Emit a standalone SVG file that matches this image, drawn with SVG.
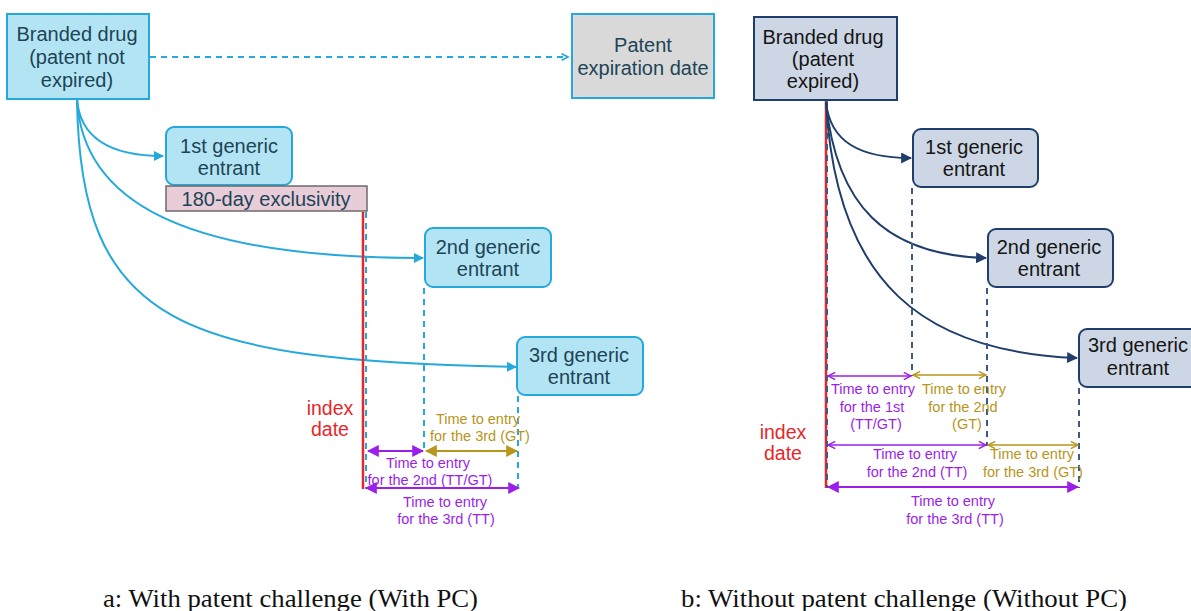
<svg xmlns="http://www.w3.org/2000/svg" width="1191" height="611" viewBox="0 0 1191 611">
  <style>
    .sans { font-family: "Liberation Sans", Arial, sans-serif; }
    .node-a { fill: #b3e4f4; stroke: #25a9dc; stroke-width: 2; }
    .node-b { fill: #cdd6e4; stroke: #203e6b; stroke-width: 2; }
    .lbl-a { font-size: 20px; fill: #1d4456; text-anchor: middle; }
    .lbl-b { font-size: 20px; fill: #151515; text-anchor: middle; }
    .idx { font-size: 19.5px; fill: #e8262a; text-anchor: middle; }
    .tp { font-size: 14.5px; fill: #9b1fe8; text-anchor: middle; }
    .tg { font-size: 14.5px; fill: #b8951c; text-anchor: middle; }
    .cap { font-family: "Liberation Serif", "Times New Roman", serif; font-size: 26px; fill: #111; }
    .curve-a { fill: none; stroke: #25a9dc; stroke-width: 2; }
    .curve-b { fill: none; stroke: #203e6b; stroke-width: 2; }
    .dash-a { fill: none; stroke: #25a9dc; stroke-width: 2; stroke-dasharray: 6 5; }
    .dash-b { fill: none; stroke: #3c5a85; stroke-width: 2; stroke-dasharray: 6 5; }
    .red { stroke: #e8262a; stroke-width: 2.5; }
    .ap { stroke: #9b1fe8; stroke-width: 2; fill: none; }
    .ag { stroke: #b8951c; stroke-width: 2; fill: none; }
    .thin-p { stroke: #9b1fe8; stroke-width: 1.5; fill: none; }
    .thin-g { stroke: #b8951c; stroke-width: 1.5; fill: none; }
  </style>
  <defs>
    <marker id="hCyan" viewBox="0 0 10 10" refX="9" refY="5" markerWidth="10" markerHeight="10" markerUnits="userSpaceOnUse" orient="auto">
      <path d="M0,0 L10,5 L0,10 Z" fill="#25a9dc"/>
    </marker>
    <marker id="hCyanOpen" viewBox="0 0 10 10" refX="9" refY="5" markerWidth="8" markerHeight="8" markerUnits="userSpaceOnUse" orient="auto">
      <path d="M1,1 L9,5 L1,9" fill="none" stroke="#25a9dc" stroke-width="2"/>
    </marker>
    <marker id="hNavy" viewBox="0 0 10 10" refX="9" refY="5" markerWidth="11" markerHeight="11" markerUnits="userSpaceOnUse" orient="auto">
      <path d="M0,0 L10,5 L0,10 Z" fill="#203e6b"/>
    </marker>
    <marker id="hPurple" viewBox="0 0 10 10" refX="9" refY="5" markerWidth="12" markerHeight="12" markerUnits="userSpaceOnUse" orient="auto-start-reverse">
      <path d="M0,0 L10,5 L0,10 Z" fill="#9b1fe8"/>
    </marker>
    <marker id="hGold" viewBox="0 0 10 10" refX="9" refY="5" markerWidth="12" markerHeight="12" markerUnits="userSpaceOnUse" orient="auto-start-reverse">
      <path d="M0,0 L10,5 L0,10 Z" fill="#b8951c"/>
    </marker>
    <marker id="oPurple" viewBox="0 0 10 10" refX="9" refY="5" markerWidth="9" markerHeight="9" markerUnits="userSpaceOnUse" orient="auto-start-reverse">
      <path d="M1,1 L9,5 L1,9" fill="none" stroke="#9b1fe8" stroke-width="1.6"/>
    </marker>
    <marker id="oGold" viewBox="0 0 10 10" refX="9" refY="5" markerWidth="9" markerHeight="9" markerUnits="userSpaceOnUse" orient="auto-start-reverse">
      <path d="M1,1 L9,5 L1,9" fill="none" stroke="#b8951c" stroke-width="1.6"/>
    </marker>
  </defs>

  <rect width="1191" height="611" fill="#ffffff"/>

  <!-- ===== Panel a: with patent challenge ===== -->
  <g id="connectors-a">
    <path class="dash-a" d="M150,57 L568,57" marker-end="url(#hCyanOpen)"/>
    <path class="curve-a" d="M77,99 C80,138 110,156 163,156" marker-end="url(#hCyan)"/>
    <path class="curve-a" d="M77,99 C82,200 180,258 423,258" marker-end="url(#hCyan)"/>
    <path class="curve-a" d="M77,99 C80,325 180,360 516,367" marker-end="url(#hCyan)"/>
    <line class="red" x1="363" y1="212" x2="363" y2="489"/>
    <line class="dash-a" x1="366" y1="212" x2="366" y2="489"/>
    <line class="dash-a" x1="424" y1="288" x2="424" y2="451"/>
    <line class="dash-a" x1="518" y1="396" x2="518" y2="489"/>
    <line class="ap" x1="368" y1="451" x2="423" y2="451" marker-start="url(#hPurple)" marker-end="url(#hPurple)"/>
    <line class="ag" x1="426" y1="451" x2="517" y2="451" marker-start="url(#hGold)" marker-end="url(#hGold)"/>
    <line class="ap" x1="366" y1="488" x2="519" y2="488" marker-start="url(#hPurple)" marker-end="url(#hPurple)"/>
  </g>

  <g id="branded-a" class="sans">
    <rect class="node-a" x="7" y="14" width="142" height="85"/>
    <text class="lbl-a" x="77" y="41">Branded drug</text>
    <text class="lbl-a" x="77" y="64">(patent not</text>
    <text class="lbl-a" x="77" y="87">expired)</text>
  </g>
  <g id="patent-expiration" class="sans">
    <rect x="572" y="14" width="142" height="84" fill="#d9d9d9" stroke="#25a9dc" stroke-width="2"/>
    <text class="lbl-a" x="643" y="52">Patent</text>
    <text class="lbl-a" x="643" y="75">expiration date</text>
  </g>
  <g id="generic1-a" class="sans">
    <rect class="node-a" x="166" y="127" width="126" height="58" rx="8"/>
    <text class="lbl-a" x="229" y="153">1st generic</text>
    <text class="lbl-a" x="229" y="175">entrant</text>
  </g>
  <g id="exclusivity" class="sans">
    <rect x="166" y="186" width="201" height="25" fill="#e8cdd9" stroke="#6b6b6b" stroke-width="1.5"/>
    <text class="lbl-a" x="266" y="206">180-day exclusivity</text>
  </g>
  <g id="generic2-a" class="sans">
    <rect class="node-a" x="425" y="228" width="126" height="59" rx="8"/>
    <text class="lbl-a" x="488" y="254">2nd generic</text>
    <text class="lbl-a" x="488" y="276">entrant</text>
  </g>
  <g id="generic3-a" class="sans">
    <rect class="node-a" x="517" y="337" width="126" height="58" rx="8"/>
    <text class="lbl-a" x="579" y="362">3rd generic</text>
    <text class="lbl-a" x="579" y="384">entrant</text>
  </g>
  <g id="labels-a" class="sans">
    <text class="idx" x="330" y="415">index</text>
    <text class="idx" x="330" y="436">date</text>
    <text class="tg" x="478" y="424">Time to entry</text>
    <text class="tg" x="480" y="441">for the 3rd (GT)</text>
    <text class="tp" x="428" y="468">Time to entry</text>
    <text class="tp" x="430" y="485">for the 2nd (TT/GT)</text>
    <text class="tp" x="445" y="507">Time to entry</text>
    <text class="tp" x="446" y="524">for the 3rd (TT)</text>
  </g>

  <!-- ===== Panel b: without patent challenge ===== -->
  <g id="connectors-b">
    <line class="red" x1="826" y1="100" x2="826" y2="488"/>
    <line class="dash-b" x1="827" y1="100" x2="827" y2="488" stroke-width="1.5"/>
    <path class="curve-b" d="M826,102 C830,142 860,158 911,158" marker-end="url(#hNavy)"/>
    <path class="curve-b" d="M826,102 C836,205 885,255 986,258" marker-end="url(#hNavy)"/>
    <path class="curve-b" d="M826,102 C836,285 925,352 1077,358" marker-end="url(#hNavy)"/>
    <line class="dash-b" x1="912" y1="188" x2="912" y2="376"/>
    <line class="dash-b" x1="987" y1="288" x2="987" y2="446"/>
    <line class="dash-b" x1="1079" y1="388" x2="1079" y2="488"/>
    <line class="thin-p" x1="828" y1="376" x2="911" y2="376" marker-start="url(#oPurple)" marker-end="url(#oPurple)"/>
    <line class="thin-g" x1="913" y1="375" x2="986" y2="375" marker-start="url(#oGold)" marker-end="url(#oGold)"/>
    <line class="thin-p" x1="828" y1="445" x2="986" y2="445" marker-start="url(#oPurple)" marker-end="url(#oPurple)"/>
    <line class="thin-g" x1="988" y1="445" x2="1078" y2="445" marker-start="url(#oGold)" marker-end="url(#oGold)"/>
    <line class="ap" x1="828" y1="487" x2="1078" y2="487" marker-start="url(#hPurple)" marker-end="url(#hPurple)"/>
  </g>

  <g id="branded-b" class="sans">
    <rect class="node-b" x="754" y="17" width="143" height="83"/>
    <text class="lbl-b" x="823" y="44">Branded drug</text>
    <text class="lbl-b" x="823" y="66">(patent</text>
    <text class="lbl-b" x="823" y="88">expired)</text>
  </g>
  <g id="generic1-b" class="sans">
    <rect class="node-b" x="913" y="129" width="125" height="58" rx="8"/>
    <text class="lbl-b" x="974" y="154">1st generic</text>
    <text class="lbl-b" x="974" y="176">entrant</text>
  </g>
  <g id="generic2-b" class="sans">
    <rect class="node-b" x="988" y="229" width="125" height="58" rx="8"/>
    <text class="lbl-b" x="1049" y="254">2nd generic</text>
    <text class="lbl-b" x="1049" y="276">entrant</text>
  </g>
  <g id="generic3-b" class="sans">
    <rect class="node-b" x="1079" y="329" width="125" height="58" rx="8"/>
    <text class="lbl-b" x="1138" y="352">3rd generic</text>
    <text class="lbl-b" x="1138" y="375">entrant</text>
  </g>
  <g id="labels-b" class="sans">
    <text class="idx" x="783" y="439">index</text>
    <text class="idx" x="783" y="460">date</text>
    <text class="tp" x="873" y="394">Time to entry</text>
    <text class="tp" x="872" y="412">for the 1st</text>
    <text class="tp" x="876" y="429">(TT/GT)</text>
    <text class="tg" x="964" y="394">Time to entry</text>
    <text class="tg" x="963" y="412">for the 2nd</text>
    <text class="tg" x="967" y="429">(GT)</text>
    <text class="tp" x="915" y="459">Time to entry</text>
    <text class="tp" x="917" y="477">for the 2nd (TT)</text>
    <text class="tg" x="1032" y="459">Time to entry</text>
    <text class="tg" x="1033" y="477">for the 3rd (GT)</text>
    <text class="tp" x="953" y="506">Time to entry</text>
    <text class="tp" x="955" y="524">for the 3rd (TT)</text>
  </g>

  <!-- ===== Captions ===== -->
  <g id="captions">
    <text class="cap" x="103" y="607" textLength="375" lengthAdjust="spacingAndGlyphs">a: With patent challenge (With PC)</text>
    <text class="cap" x="681" y="607" textLength="446" lengthAdjust="spacingAndGlyphs">b: Without patent challenge (Without PC)</text>
  </g>
</svg>
